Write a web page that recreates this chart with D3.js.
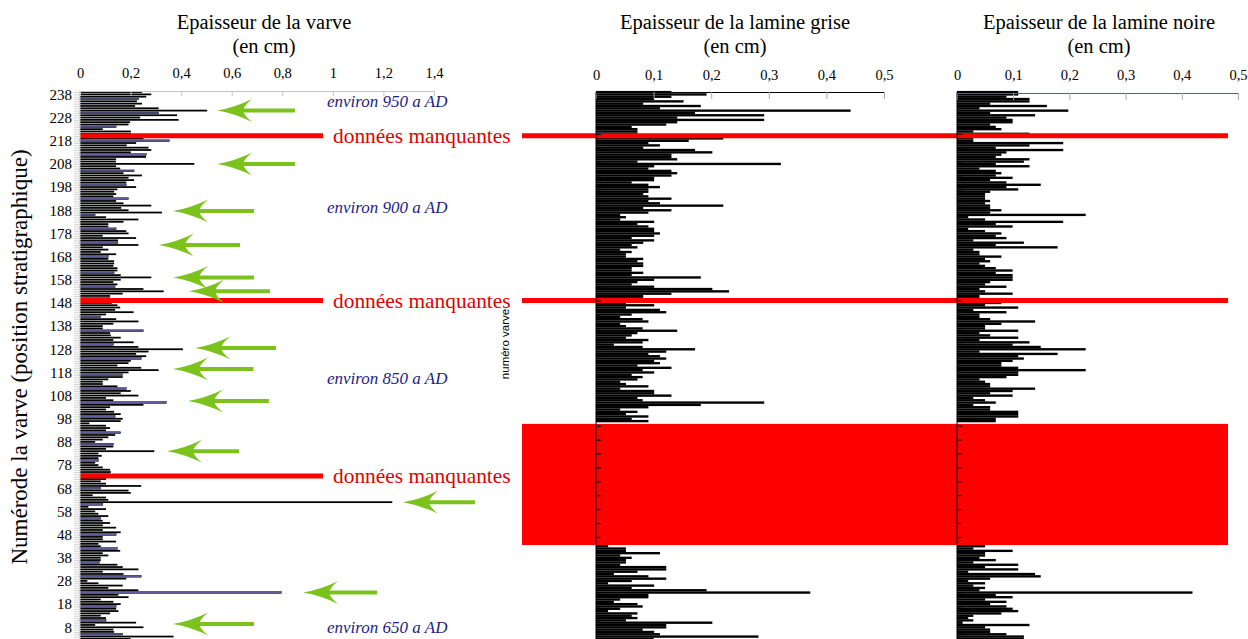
<!DOCTYPE html>
<html><head><meta charset="utf-8">
<script src="https://cdn.jsdelivr.net/npm/d3@7"></script>
<style>html,body{margin:0;padding:0;background:#fff;overflow:hidden}svg{display:block}</style>
</head><body><svg id="c" width="1248" height="639"></svg>
<script>
// ---------- DATA ----------
// varve numbers, from top (239) to bottom (3)
const varves = d3.range(239, 2, -1);

// total varve thickness (cm), 239 -> 3
const varveThickness = [
 .245,.282,.262,.231,.225,.245,.218,.311,.503,.311,
 .384,.238,.390,.198,.192,.143,.090,.201,.201,null,
 .251,.354,.222,.185,.271,.282,.201,.262,.261,.143,
 .142,.452,.143,.159,.214,.172,.245,.192,.214,.183,
 .183,.222,.148,.135,.143,.132,.192,.143,.172,.282,
 .163,.192,.324,.060,.103,.231,.172,.112,.112,.143,
 .183,.192,.090,.222,.150,.150,.231,.090,.112,.082,
 .143,.112,.112,.135,.135,.132,.148,.148,.135,.161,
 .282,.161,.132,.148,.139,.251,.331,.169,.119,.119,
 null,.126,.148,.159,.139,.212,.103,.082,.143,.231,
 .132,.090,.090,.251,.119,.122,.161,.132,.212,.132,
 .231,.407,.271,.222,.262,.242,.201,.192,.148,.242,
 .311,.192,.169,.169,.112,.090,.090,.148,.183,.201,
 .161,.231,.103,.132,.341,.251,.119,.103,.135,.161,
 .139,.169,.161,.037,.103,.119,.103,.161,.139,.112,
 .090,.060,.132,.132,.103,.294,.073,.086,.073,.073,
 .060,.073,.090,.119,.122,.119,null,.103,.082,.103,
 .242,.082,.192,.201,.050,.103,.112,1.235,.090,.033,
 .103,.060,.073,.112,.082,.090,.119,.090,.143,.090,
 .161,.143,.090,.090,.143,.073,.082,.148,.159,.090,
 .112,.082,.082,.077,.148,.169,.231,.090,.172,.242,
 .183,.029,.073,.169,.112,.231,.796,.152,.192,.082,
 .132,.161,.143,.143,.152,.119,.082,.103,.103,.222,
 .060,.251,.132,.135,.169,.370,.200
];

// grey lamina thickness (cm), 239 -> 3
const greyLamina = [
 .131,.192,.131,.101,.152,.082,.182,.111,.442,.172,
 .292,.141,.292,.141,.122,.062,.072,.072,.072,null,
 .221,.161,.091,.111,.082,.172,.202,.131,.131,.141,
 .072,.321,.101,.091,.131,.141,.131,.101,.101,.062,
 .091,.111,.091,.091,.082,.091,.131,.091,.111,.221,
 .082,.131,.091,.042,.052,.042,.101,.072,.091,.101,
 .101,.111,.101,.062,.101,.082,.062,.072,.042,.062,
 .052,.052,.082,.072,.082,.082,.062,.062,.082,.062,
 .182,.101,.072,.062,.101,.202,.231,.131,.082,.082,
 null,.052,.101,.052,.111,.122,.062,.042,.081,.091,
 .042,.052,.081,.141,.072,.062,.052,.091,.081,.031,
 .081,.172,.122,.091,.111,.122,.101,.111,.072,.131,
 .081,.101,.062,.081,.072,.042,.052,.091,.042,.101,
 .101,.131,.072,.081,.292,.182,.091,.042,.072,.052,
 .091,.062,.091,null,null,null,null,null,null,null,
 null,null,null,null,null,null,null,null,null,null,
 null,null,null,null,null,null,null,null,null,null,
 null,null,null,null,null,null,null,null,null,null,
 null,null,null,null,null,null,null,null,null,null,
 null,null,null,null,null,null,.021,.052,.052,.111,
 .042,.062,.052,.052,.042,.122,.122,.072,.031,.091,
 .122,.062,.021,.101,.062,.192,.372,.091,.091,.042,
 .031,.072,.081,.042,.021,.072,.062,.072,.052,.202,
 .122,.122,.081,.101,.111,.282,.100
];

// black lamina thickness (cm), 239 -> 3
const blackLamina = [
 .109,.109,.088,.129,.129,.059,.160,.040,.198,.059,
 .139,.088,.099,.099,.059,.069,.079,.029,.129,null,
 .029,.029,.189,.129,.069,.189,.088,.079,.069,.129,
 .119,.069,.129,.040,.069,.079,.069,.099,.059,.088,
 .149,.088,.109,.059,.050,.050,.050,.059,.050,.059,
 .059,.079,.059,.229,.020,.050,.189,.069,.099,.020,
 .050,.079,.069,.088,.029,.119,.069,.179,.029,.040,
 .040,.079,.050,.059,.040,.050,.069,.099,.069,.099,
 .099,.099,.059,.050,.088,.040,.050,.099,.040,.040,
 null,.079,.050,.109,.029,.088,.040,.040,.059,.139,
 .079,.050,.050,.109,.040,.059,.109,.040,.129,.099,
 .149,.229,.040,.179,.109,.119,.099,.079,.079,.109,
 .229,.109,.109,.088,.040,.050,.059,.059,.139,.099,
 .059,.099,.029,.050,.069,.029,.059,.059,.109,.109,
 .109,.069,.069,null,null,null,null,null,null,null,
 null,null,null,null,null,null,null,null,null,null,
 null,null,null,null,null,null,null,null,null,null,
 null,null,null,null,null,null,null,null,null,null,
 null,null,null,null,null,null,null,null,null,null,
 null,null,null,null,null,null,.050,.029,.099,.050,
 .050,.040,.069,.029,.109,.050,.109,.020,.139,.149,
 .059,.020,.050,.029,.050,.040,.419,.069,.099,.050,
 .088,.059,.088,.099,.109,.079,.029,.020,.029,.010,
 .129,.050,.059,.059,.088,.119,.119
];

// bars drawn with the lighter (blue-grey) fill in the first panel
const shadedVarves = [236,230,224,218,212,205,199,193,186,180,174,168,161,155,142,136,130,124,117,111,105,99,92,87,80,68,61,55,48,42,36,30,23,17,11,5];

const missingVarves = [220.2, 149.0, 73.3];          // "données manquantes" lines
const missingLaminaRange = [43.5, 95.8];             // lamina gap
const varveTicks = [238,228,218,208,198,188,178,168,158,148,138,128,118,108,98,88,78,68,58,48,38,28,18,8];
const thicknessTicks = [0,0.2,0.4,0.6,0.8,1,1.2,1.4];
const laminaTicks = [0,0.1,0.2,0.3,0.4,0.5];

// arrows: varve position, tip and tail in thickness units (cm)
const arrows = [
 {varve:231, tip:0.542, tail:0.850},
 {varve:208, tip:0.542, tail:0.850},
 {varve:187.7, tip:0.368, tail:0.688},
 {varve:173, tip:0.312, tail:0.633},
 {varve:159, tip:0.368, tail:0.688},
 {varve:153, tip:0.431, tail:0.751},
 {varve:128.5, tip:0.455, tail:0.775},
 {varve:119.5, tip:0.368, tail:0.686},
 {varve:105.7, tip:0.427, tail:0.747},
 {varve:84, tip:0.344, tail:0.629},
 {varve:62, tip:1.277, tail:1.562},
 {varve:23, tip:0.882, tail:1.175},
 {varve:9.4, tip:0.368, tail:0.688}
];
const periods = [
 {varve:232.6, label:"environ 950 a AD"},
 {varve:186.8, label:"environ 900 a AD"},
 {varve:113.0, label:"environ 850 a AD"},
 {varve:5.5,   label:"environ 650 a AD"}
];

// ---------- LAYOUT ----------
const svg = d3.select("#c");
const SERIF = "'Liberation Serif','Times New Roman',serif";
const y = d3.scaleLinear().domain([8, 238]).range([627.3, 94.4]);
const step = Math.abs(y(1) - y(0));
const xL = d3.scaleLinear().domain([0, 1.4]).range([80, 434]);
const xM = d3.scaleLinear().domain([0, 0.5]).range([596, 884]);
const xR = d3.scaleLinear().domain([0, 0.5]).range([957, 1238]);
const fmt = d => d3.format("~g")(d).replace(".", ",");
const bottom = 645;
const redX0 = 522, redX1 = 1228, redLeftEnd = 0.961, redTextX = 333;
const RED = "#ff0000", GREEN = "#7bc21c", NAVY = "#1c1c86";

function rows(vals) {
  return varves.map((v, i) => ({v, val: vals[i]})).filter(d => d.val != null);
}

// left bars
svg.append("g").selectAll("rect").data(rows(varveThickness)).join("rect")
  .attr("x", xL(0)).attr("y", d => y(d.v) - step/2 + 0.25)
  .attr("width", d => xL(d.val) - xL(0)).attr("height", step - 0.55)
  .attr("fill", d => shadedVarves.includes(d.v) ? "#5e5e98" : "#000")
  .attr("stroke", d => shadedVarves.includes(d.v) ? "#000" : "none")
  .attr("stroke-width", 0.5);

// middle / right bars
[[greyLamina, xM], [blackLamina, xR]].forEach(([vals, x]) => {
  svg.append("g").selectAll("rect").data(rows(vals)).join("rect")
    .attr("x", x(0)).attr("y", d => y(d.v) - step/2)
    .attr("width", d => x(d.val) - x(0)).attr("height", step + 0.05)
    .attr("fill", "#000");
});

// missing data
const redG = svg.append("g");
missingVarves.forEach((v, i) => {
  redG.append("line").attr("x1", xL(0)).attr("x2", xL(redLeftEnd))
    .attr("y1", y(v)).attr("y2", y(v)).attr("stroke", RED).attr("stroke-width", 5);
  if (i < 2) redG.append("line").attr("x1", redX0).attr("x2", redX1)
    .attr("y1", y(v)).attr("y2", y(v)).attr("stroke", RED).attr("stroke-width", 5);
  redG.append("text").attr("x", redTextX).attr("y", y(v) + 7)
    .attr("font-family", SERIF).attr("font-size", 21.4).attr("fill", "#e00000")
    .text("données manquantes");
});
redG.append("rect").attr("x", redX0).attr("width", redX1 - redX0)
  .attr("y", y(missingLaminaRange[1])).attr("height", y(missingLaminaRange[0]) - y(missingLaminaRange[1]))
  .attr("fill", RED);

// ---------- AXES ----------
function styleAxis(g, col, tickCol) {
  g.select(".domain").attr("stroke", col);
  g.selectAll(".tick line").attr("stroke", tickCol);
  g.selectAll(".tick text").attr("font-family", SERIF).attr("font-size", 14.5).attr("fill", "#000");
}
const gxL = svg.append("g").attr("transform", "translate(0,91)")
  .call(d3.axisTop(xL).tickValues(thicknessTicks).tickFormat(fmt).tickSizeInner(-5).tickSizeOuter(0).tickPadding(13));
styleAxis(gxL, "#c4c4c4", "#c4c4c4");
const gxM = svg.append("g").attr("transform", "translate(0,92)")
  .call(d3.axisTop(xM).tickValues(laminaTicks).tickFormat(fmt).tickSizeInner(-7).tickSizeOuter(0).tickPadding(12));
styleAxis(gxM, "#000", "#aaa");
const gxR = svg.append("g").attr("transform", "translate(0,93)")
  .call(d3.axisTop(xR).tickValues(laminaTicks).tickFormat(fmt).tickSizeInner(-7).tickSizeOuter(0).tickPadding(13));
styleAxis(gxR, "#5656a8", "#aaa");

// left y axis
svg.append("line").attr("x1", xL(0)).attr("x2", xL(0)).attr("y1", 91).attr("y2", bottom).attr("stroke", "#c4c4c4");
const gyMinor = svg.append("g").attr("transform", `translate(${xL(0)},0)`)
  .call(d3.axisLeft(y).tickValues(varves).tickSize(6).tickFormat(""));
gyMinor.select(".domain").remove();
gyMinor.selectAll(".tick line").attr("stroke", "#c8c8c8").attr("stroke-width", 0.8);
const gy = svg.append("g").attr("transform", `translate(${xL(0)},0)`)
  .call(d3.axisLeft(y).tickValues(varveTicks).tickSize(0).tickPadding(8));
gy.select(".domain").remove();
gy.selectAll(".tick text").attr("font-family", SERIF).attr("font-size", 15).attr("fill", "#000");

// lamina y axes
[xM, xR].forEach(x => {
  svg.append("line").attr("x1", x(0)).attr("x2", x(0)).attr("y1", 92).attr("y2", bottom).attr("stroke", "#000");
  const g = svg.append("g").attr("transform", `translate(${x(0)},0)`)
    .call(d3.axisLeft(y).tickValues(d3.range(5, 240, 6)).tickSize(-5).tickFormat(""));
  g.select(".domain").remove();
  g.selectAll(".tick line").attr("stroke", "#000");
});

// ---------- ARROWS ----------
const ag = svg.append("g").attr("fill", GREEN);
arrows.forEach(a => {
  const tx = xL(a.tip), ex = xL(a.tail), ty = y(a.varve);
  ag.append("line").attr("x1", tx + 24).attr("x2", ex).attr("y1", ty).attr("y2", ty)
    .attr("stroke", GREEN).attr("stroke-width", 4);
  ag.append("path").attr("transform", `translate(${tx},${ty})`)
    .attr("d", "M0,0 Q18,-3 35,-11.5 Q27,-5 26,0 Q27,5 35,11.5 Q18,3 0,0 Z");
});

// ---------- TEXT ----------
periods.forEach(p => {
  svg.append("text").attr("x", xL(0.977)).attr("y", y(p.varve))
    .attr("font-family", SERIF).attr("font-style", "italic").attr("font-size", 17)
    .attr("fill", NAVY).text(p.label);
});
const titles = [
  {x: 264, t: "Epaisseur de la varve"},
  {x: 735, t: "Epaisseur de la lamine grise"},
  {x: 1099, t: "Epaisseur de la lamine noire"}
];
titles.forEach(d => {
  const t = svg.append("text").attr("text-anchor", "middle").attr("font-family", SERIF)
    .attr("font-size", 20.5).attr("fill", "#000");
  t.append("tspan").attr("x", d.x).attr("y", 29).text(d.t);
  t.append("tspan").attr("x", d.x).attr("y", 53).text("(en cm)");
});
svg.append("text").attr("transform", "translate(27,357) rotate(-90)").attr("text-anchor", "middle")
  .attr("font-family", SERIF).attr("font-size", 23).attr("fill", "#000")
  .text("Numérode la varve (position stratigraphique)");
svg.append("text").attr("transform", "translate(509,344) rotate(-90)").attr("text-anchor", "middle")
  .attr("font-family", "'Liberation Sans',Arial,sans-serif").attr("font-size", 11.5).attr("fill", "#000")
  .text("numéro varve");
</script></body></html>
